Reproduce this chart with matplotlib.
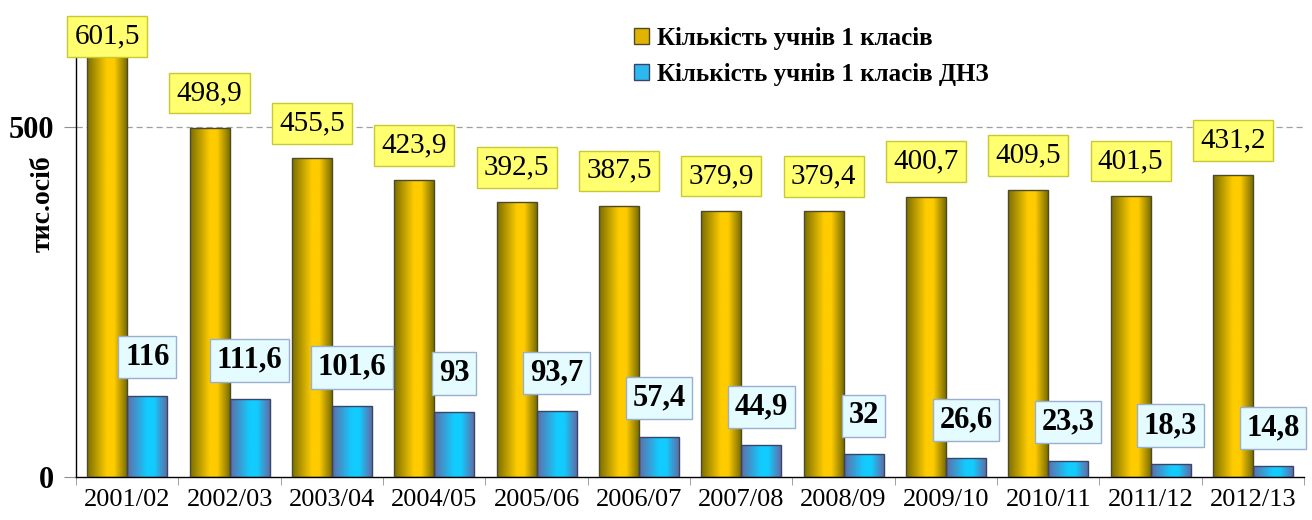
import numpy as np
import matplotlib
matplotlib.use("Agg")
import matplotlib.pyplot as plt
from matplotlib.patches import Patch
from matplotlib.colors import LinearSegmentedColormap

plt.rcParams['font.family'] = ['Liberation Serif', 'DejaVu Serif']

years = ['2001/02', '2002/03', '2003/04', '2004/05', '2005/06', '2006/07',
         '2007/08', '2008/09', '2009/10', '2010/11', '2011/12', '2012/13']
pupils = [601.5, 498.9, 455.5, 423.9, 392.5, 387.5, 379.9, 379.4, 400.7, 409.5, 401.5, 431.2]
pupils_dnz = [116, 111.6, 101.6, 93, 93.7, 57.4, 44.9, 32, 26.6, 23.3, 18.3, 14.8]
labels_pupils = ['601,5', '498,9', '455,5', '423,9', '392,5', '387,5',
                 '379,9', '379,4', '400,7', '409,5', '401,5', '431,2']
labels_dnz = ['116', '111,6', '101,6', '93', '93,7', '57,4',
              '44,9', '32', '26,6', '23,3', '18,3', '14,8']
legend_names = ['Кількість учнів 1 класів', 'Кількість учнів 1 класів ДНЗ']

gold_cmap = LinearSegmentedColormap.from_list(
    'gold', [(0, '#7A6E00'), (0.5, '#FFCC00'), (0.68, '#FFCC00'), (1, '#7A6E00')])
blue_cmap = LinearSegmentedColormap.from_list(
    'blue', [(0, '#5F6DA8'), (0.5, '#12CCFF'), (0.68, '#12CCFF'), (1, '#5F6DA8')])

fig = plt.figure(figsize=(13.12, 5.2), dpi=100)
ax = fig.add_axes([0.058, 0.083, 0.936, 0.811])

x = np.arange(len(years))
w = 0.39
ymax = 603

grad = np.linspace(0, 1, 256).reshape(1, -1)


def gradient_bars(xs, vals, cmap, edge):
    bars = ax.bar(xs, vals, w, align='edge', facecolor='none', edgecolor=edge,
                  linewidth=1.0, zorder=3)
    for b in bars:
        x0, y0 = b.get_x(), b.get_y()
        im = ax.imshow(grad, extent=[x0, x0 + b.get_width(), y0, y0 + b.get_height()],
                       aspect='auto', cmap=cmap, zorder=2, interpolation='bilinear')
        im.set_clip_path(b)
    return bars


gradient_bars(x - w, pupils, gold_cmap, '#4D4A2A')
gradient_bars(x, pupils_dnz, blue_cmap, '#3C4466')

ax.set_xlim(-0.5, len(years) - 0.5)
ax.set_ylim(0, ymax)

# value labels
for i, v in enumerate(pupils):
    ax.annotate(labels_pupils[i], (x[i] - w / 2, min(v + 50, 630)),
                ha='center', va='center', fontsize=21, annotation_clip=False,
                bbox=dict(boxstyle='square,pad=0.25', facecolor='#FFFF70',
                          edgecolor='#C8C832', linewidth=1))
for i, v in enumerate(pupils_dnz):
    ax.annotate(labels_dnz[i], (x[i] + w / 2, v + 55),
                ha='center', va='center', fontsize=22, fontweight='bold',
                bbox=dict(boxstyle='square,pad=0.22', facecolor='#E4FCFF',
                          edgecolor='#9AAED0', linewidth=1))

ax.axhline(500, color='#A0A0A0', linestyle=(0, (5, 3)), linewidth=0.9, zorder=1)

ax.set_yticks([0, 500])
ax.set_yticklabels(['0', '500'], fontsize=22, fontweight='bold')
ax.set_xticks(x)
ax.set_xticklabels(years, fontsize=19)
ax.set_xticks(np.arange(-0.5, len(years)), minor=True)
ax.tick_params(axis='x', which='major', length=0, pad=9)
ax.tick_params(axis='x', which='minor', length=6, color='#909090', direction='out')
ax.tick_params(axis='y', length=9, color='#909090', direction='out', pad=7)

for s in ['top', 'right']:
    ax.spines[s].set_visible(False)
ax.spines['left'].set_linewidth(1.0)
ax.spines['bottom'].set_linewidth(1.0)

ax.set_ylabel('тис.осіб', fontsize=20, fontweight='bold')
ax.yaxis.set_label_coords(-0.017, 0.647)

handles = [Patch(facecolor='#E0B400', edgecolor='#4D4A2A'),
           Patch(facecolor='#2EB8F0', edgecolor='#3C4466')]
fig.legend(handles, legend_names, loc='upper left', bbox_to_anchor=(0.474, 0.972),
           frameon=False, prop=dict(size=18, weight='bold'), handlelength=0.6,
           handleheight=0.6, handletextpad=0.3, labelspacing=0.5, borderpad=0)

fig.savefig('out.png', dpi=100)
